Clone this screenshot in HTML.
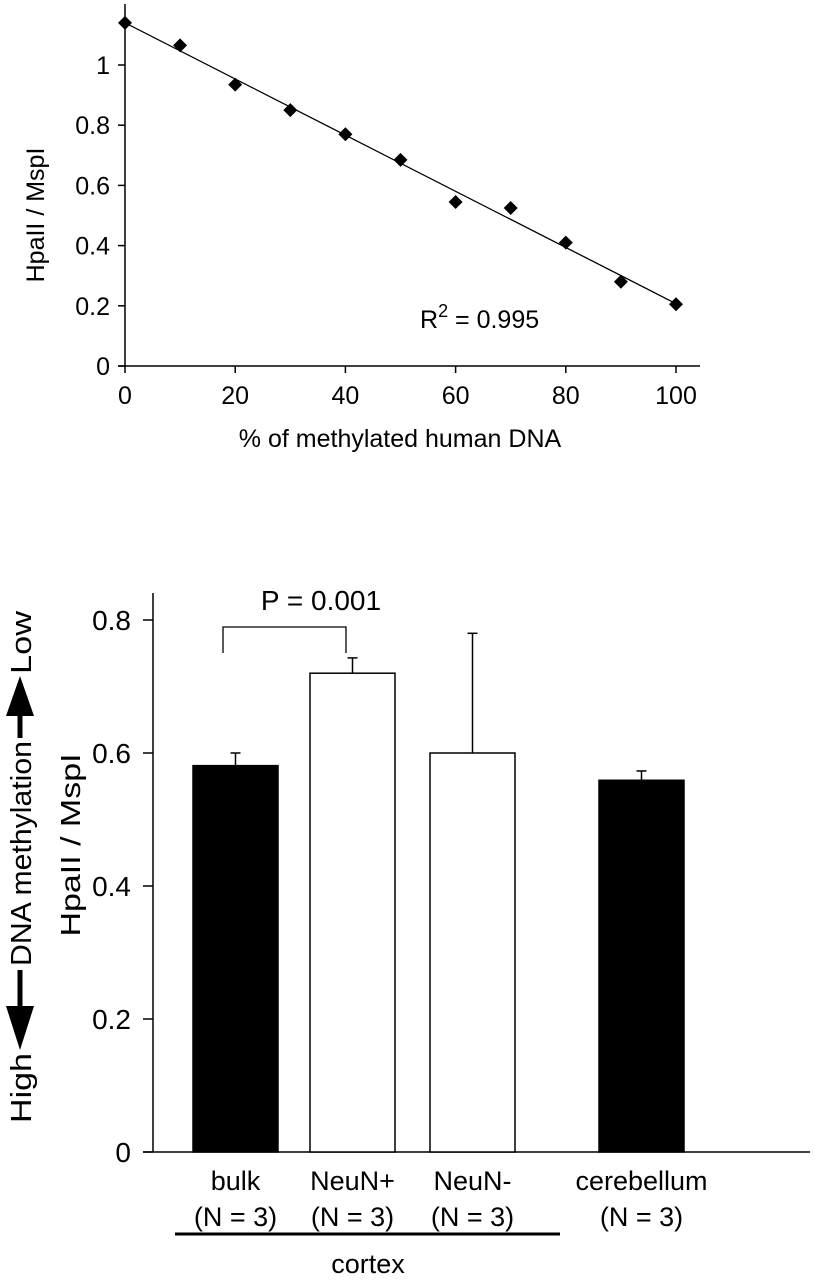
<!DOCTYPE html>
<html><head><meta charset="utf-8"><style>
body{margin:0;background:#fff;}
svg{display:block;font-family:"Liberation Sans",Arial,sans-serif;}
</style></head><body>
<svg width="816" height="1280" viewBox="0 0 816 1280">
<g id="top"></g>
<g id="bot"></g>
</svg>
<script>
const pctX=[0,10,20,30,40,50,60,70,80,90,100];
const ratioY=[1.14,1.065,0.935,0.85,0.77,0.685,0.545,0.525,0.41,0.28,0.205];
const topYTicks=[0,0.2,0.4,0.6,0.8,1];
const topYLabels=["0","0.2","0.4","0.6","0.8","1"];
const topXTicks=[0,20,40,60,80,100];
const barCats=["bulk","NeuN+","NeuN-","cerebellum"];
const barVals=[0.581,0.72,0.6,0.559];
const barErr=[0.019,0.023,0.18,0.014];
const barFill=["#000","#fff","#fff","#000"];
const botYTicks=[0,0.2,0.4,0.6,0.8];
const botYLabels=["0","0.2","0.4","0.6","0.8"];
const NS="http://www.w3.org/2000/svg";
function mk(p,t,a,txt){const e=document.createElementNS(NS,t);for(const k in a)e.setAttribute(k,a[k]);if(txt!=null)e.textContent=txt;p.appendChild(e);return e;}
// top chart
const T=document.getElementById('top');
const tx=v=>125+v*5.51, ty=v=>366-v*301;
let e;
e=mk(T,'line',{x1:125,y1:4,x2:125,y2:366,stroke:'#000','stroke-width':1.5});

e=mk(T,'line',{x1:118,y1:366,x2:700,y2:366,stroke:'#000','stroke-width':1.5});

topYTicks.forEach((v,i)=>{
 mk(T,'line',{x1:118,y1:ty(v),x2:125,y2:ty(v),stroke:'#000','stroke-width':1.5});
 e=mk(T,'text',{x:110,y:ty(v)+9,'text-anchor':'end','font-size':25},topYLabels[i]);
 
});
topXTicks.forEach(v=>{
 mk(T,'line',{x1:tx(v),y1:366,x2:tx(v),y2:373,stroke:'#000','stroke-width':1.5});
 e=mk(T,'text',{x:tx(v),y:404,'text-anchor':'middle','font-size':25},String(v));
 
});
const n=pctX.length;let sx=0,sy=0,sxx=0,sxy=0;
for(let i=0;i<n;i++){sx+=pctX[i];sy+=ratioY[i];sxx+=pctX[i]*pctX[i];sxy+=pctX[i]*ratioY[i];}
const b=(n*sxy-sx*sy)/(n*sxx-sx*sx),a0=(sy-b*sx)/n;
e=mk(T,'line',{x1:tx(0),y1:ty(a0),x2:tx(100),y2:ty(a0+b*100),stroke:'#000','stroke-width':1.3});

pctX.forEach((x,i)=>{
 const cx=tx(x),cy=ty(ratioY[i]);
 e=mk(T,'polygon',{points:`${cx},${cy-7} ${cx+7},${cy} ${cx},${cy+7} ${cx-7},${cy}`,fill:'#000'});
 
});
e=mk(T,'text',{x:420,y:328,'font-size':25});

e.innerHTML='R<tspan dy="-11" font-size="18">2</tspan><tspan dy="11"> = 0.995</tspan>';
e=mk(T,'text',{x:400,y:447,'text-anchor':'middle','font-size':25},'% of methylated human DNA');

e=mk(T,'text',{x:0,y:0,'text-anchor':'middle','font-size':25,transform:'translate(44,215) rotate(-90)'},'HpaII / MspI');

// bottom chart
const B=document.getElementById('bot');
const by=v=>1152-v*665;
const barX=[193,310,430,599], bw=85;
e=mk(B,'line',{x1:153,y1:593,x2:153,y2:1152,stroke:'#000','stroke-width':1.5});

e=mk(B,'line',{x1:143,y1:1152,x2:810,y2:1152,stroke:'#000','stroke-width':1.5});

botYTicks.forEach((v,i)=>{
 mk(B,'line',{x1:143,y1:by(v),x2:153,y2:by(v),stroke:'#000','stroke-width':1.5});
 e=mk(B,'text',{x:131,y:by(v)+10,'text-anchor':'end','font-size':28},botYLabels[i]);
 
});
barCats.forEach((c,i)=>{
 const x=barX[i],top=by(barVals[i]),et=by(barVals[i]+barErr[i]),cx=x+bw/2;
 e=mk(B,'line',{x1:cx,y1:top,x2:cx,y2:et,stroke:'#000','stroke-width':1.5});
 
 mk(B,'line',{x1:cx-5,y1:et,x2:cx+5,y2:et,stroke:'#000','stroke-width':1.5});
 e=mk(B,'rect',{x:x,y:top,width:bw,height:1152-top,fill:barFill[i],stroke:'#000','stroke-width':1.5});
 
 e=mk(B,'text',{x:cx,y:1190,'text-anchor':'middle','font-size':27},c);
 
 e=mk(B,'text',{x:cx,y:1226,'text-anchor':'middle','font-size':27},'(N = 3)');
 
});
e=mk(B,'path',{d:'M223,653 V627 H346 V653',fill:'none',stroke:'#000','stroke-width':1.3});

e=mk(B,'text',{x:321,y:610,'text-anchor':'middle','font-size':28},'P = 0.001');

e=mk(B,'line',{x1:175,y1:1234,x2:560,y2:1234,stroke:'#000','stroke-width':3});

e=mk(B,'text',{x:368,y:1273,'text-anchor':'middle','font-size':27},'cortex');

e=mk(B,'text',{x:0,y:0,'text-anchor':'middle','font-size':28,textLength:183,lengthAdjust:'spacingAndGlyphs',transform:'translate(80,845) rotate(-90)'},'HpaII / MspI');

// direction label (rotated group; local x runs upward, local y -> screen x offset)
const G=mk(B,'g',{transform:'translate(31,866) rotate(-90)'});


e=mk(G,'text',{x:-257,y:0,'font-size':29,textLength:70,lengthAdjust:'spacingAndGlyphs'},'High');

e=mk(G,'text',{x:-100,y:0,'font-size':29,textLength:225,lengthAdjust:'spacingAndGlyphs'},'DNA methylation');

e=mk(G,'text',{x:192,y:0,'font-size':29,textLength:63,lengthAdjust:'spacingAndGlyphs'},'Low');

e=mk(G,'path',{d:'M-104,-13.5 H-140 V-25 L-184,-11 L-140,3 V-8.5 H-104 Z',fill:'#000'});

e=mk(G,'path',{d:'M128,-13.5 H150 V-25 L190,-11 L150,3 V-8.5 H128 Z',fill:'#000'});

</script>
</body></html>
